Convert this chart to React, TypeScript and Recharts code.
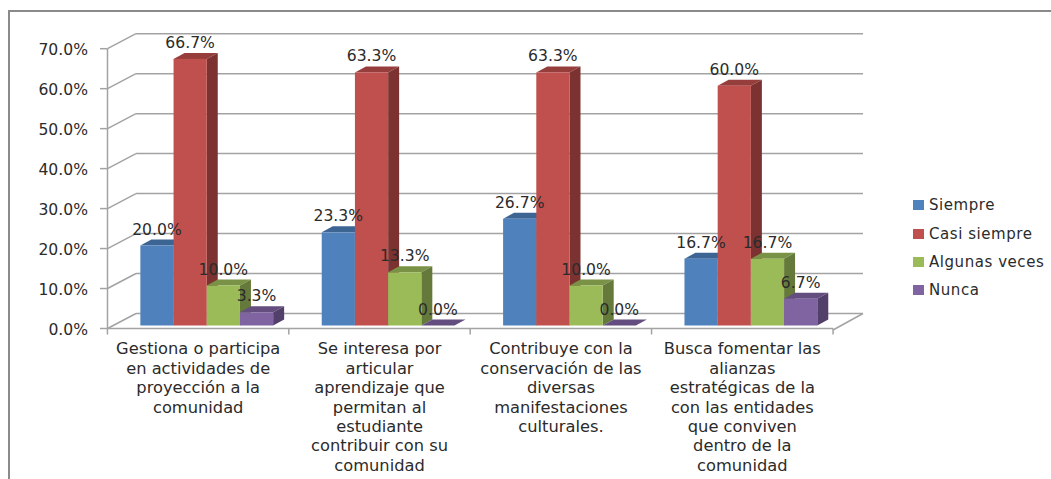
import { Bar, BarChart, CartesianGrid, LabelList, Legend, XAxis, YAxis } from "recharts"

const categories = [
  "Gestiona o participa\nen actividades de\nproyección a la\ncomunidad",
  "Se interesa por\narticular\naprendizaje que\npermitan al\nestudiante\ncontribuir con su\ncomunidad",
  "Contribuye con la\nconservación de las\ndiversas\nmanifestaciones\nculturales.",
  "Busca fomentar las\nalianzas\nestratégicas de la\ncon las entidades\nque conviven\ndentro de la\ncomunidad",
]
const siempre = [20.0, 23.3, 26.7, 16.7]
const casiSiempre = [66.7, 63.3, 63.3, 60.0]
const algunasVeces = [10.0, 13.3, 10.0, 16.7]
const nunca = [3.3, 0.0, 0.0, 6.7]
const yTicks = [0, 10, 20, 30, 40, 50, 60, 70]

const data = categories.map((category, i) => ({
  category,
  siempre: siempre[i],
  casiSiempre: casiSiempre[i],
  algunasVeces: algunasVeces[i],
  nunca: nunca[i],
}))

const FONT = "'DejaVu Sans', sans-serif"
const TEXT = "#2b2b2b"
const GRID = "#a3a3a3"
const BAND = 181.5

// depth of the fake 3D box
const wallDx = 28.5
const wallDy = -15
const barDx = 11
const barDy = -6
const barShiftX = 8.85
const barShiftY = -3

const plotBottom = 328.5

function Box3D(props: any) {
  const { x, y, width, height, fill, top, side } = props
  const l = x + barShiftX
  const r = l + width
  const t = y + barShiftY
  const b = t + height
  return (
    <g>
      <polygon points={`${l},${t} ${l + barDx},${t + barDy} ${r + barDx},${t + barDy} ${r},${t}`} fill={top} />
      {height > 0 && (
        <>
          <polygon points={`${r},${t} ${r + barDx},${t + barDy} ${r + barDx},${b + barDy} ${r},${b}`} fill={side} />
          <rect x={l} y={t} width={width} height={height} fill={fill} />
        </>
      )}
    </g>
  )
}

function WallLine(props: any) {
  const { x1, x2, y1 } = props
  return (
    <g stroke={GRID} strokeWidth={1.5} fill="none">
      <line x1={x1} y1={y1} x2={x1 + wallDx} y2={y1 + wallDy} />
      <line x1={x1 + wallDx} y1={y1 + wallDy} x2={x2 + wallDx + 1.5} y2={y1 + wallDy} />
      {Math.abs(y1 - plotBottom) < 1 && (
        <line x1={x2} y1={y1 + 1.5} x2={x2 + wallDx + 1.5} y2={y1 + wallDy} />
      )}
    </g>
  )
}

function CategoryTick(props: any) {
  const { x, y, payload, index } = props
  const lines: string[] = payload.value.split("\n")
  return (
    <g>
      <line x1={x - BAND / 2} y1={plotBottom} x2={x - BAND / 2} y2={plotBottom + 6} stroke={GRID} strokeWidth={1.5} />
      {index === categories.length - 1 && (
        <line x1={x + BAND / 2} y1={plotBottom} x2={x + BAND / 2} y2={plotBottom + 6} stroke={GRID} strokeWidth={1.5} />
      )}
      <text
        x={x}
        y={y}
        textAnchor="middle"
        fontFamily={FONT}
        fontSize={15}
        fill={TEXT}
        transform={`translate(${x} 0) scale(1.085 1) translate(${-x} 0)`}
      >
        {lines.map((line, i) => (
          <tspan key={i} x={x} y={plotBottom + 26 + i * 19.4}>
            {line}
          </tspan>
        ))}
      </text>
    </g>
  )
}

function ValueLabel(props: any) {
  const { x, y, width, value } = props
  return (
    <text
      x={x + barShiftX + width / 2}
      y={y + barShiftY - 11}
      textAnchor="middle"
      fontFamily={FONT}
      fontSize={15.6}
      fill={TEXT}
    >
      {value.toFixed(1)}%
    </text>
  )
}

function LegendBox(props: any) {
  return (
    <div style={{ fontFamily: FONT, fontSize: 15, letterSpacing: 0.55, color: TEXT }}>
      {props.payload.map((item: any) => (
        <div key={item.value} style={{ display: "flex", alignItems: "center", height: 28.4 }}>
          <span style={{ width: 11, height: 10, background: item.color, marginRight: 5 }} />
          {item.value}
        </div>
      ))}
    </div>
  )
}

const series = [
  { key: "siempre", name: "Siempre", fill: "#4f81bd", top: "#3d6594", side: "#3a5f8b" },
  { key: "casiSiempre", name: "Casi siempre", fill: "#c0504d", top: "#963e3c", side: "#7b3230" },
  { key: "algunasVeces", name: "Algunas veces", fill: "#9bbb59", top: "#799245", side: "#657a3a" },
  { key: "nunca", name: "Nunca", fill: "#8064a2", top: "#644e7f", side: "#53406a" },
]

export default function App() {
  return (
    <div style={{ position: "absolute", left: 0, top: 0, width: 1051, height: 479, overflow: "hidden", background: "#fff" }}>
      <div style={{ position: "absolute", left: 8, top: 10, right: -4, bottom: -4, border: "2px solid #8a8a8a" }} />
      <BarChart
        width={1051}
        height={479}
        data={data}
        barSize={33.2}
        barGap={0}
        margin={{ top: 48.7, right: 218, bottom: 10.5, left: 7.5 }}
      >
        <CartesianGrid vertical={false} horizontal={(p: any) => <WallLine key={p.index} {...p} />} />
        <XAxis
          dataKey="category"
          height={140}
          tickLine={false}
          interval={0}
          axisLine={{ stroke: GRID, strokeWidth: 1.5 }}
          tick={<CategoryTick />}
        />
        <YAxis
          width={100}
          domain={[0, 70]}
          ticks={yTicks}
          interval={0}
          tickSize={7.5}
          tickMargin={12}
          axisLine={{ stroke: GRID, strokeWidth: 1.5 }}
          tickLine={{ stroke: GRID, strokeWidth: 1.5 }}
          tickFormatter={(v: number) => `${v.toFixed(1)}%`}
          tick={{ fontFamily: FONT, fontSize: 15.6, fill: TEXT, dy: 1 }}
        />
        <Legend
          layout="horizontal"
          align="center"
          verticalAlign="middle"
          itemSorter={null}
          wrapperStyle={{ left: 913, top: 191, width: 136 }}
          content={<LegendBox />}
        />
        {series.map((s) => (
          <Bar
            key={s.key}
            dataKey={s.key}
            name={s.name}
            fill={s.fill}
            isAnimationActive={false}
            shape={<Box3D top={s.top} side={s.side} />}
          >
            <LabelList dataKey={s.key} content={<ValueLabel />} />
          </Bar>
        ))}
      </BarChart>
    </div>
  )
}
